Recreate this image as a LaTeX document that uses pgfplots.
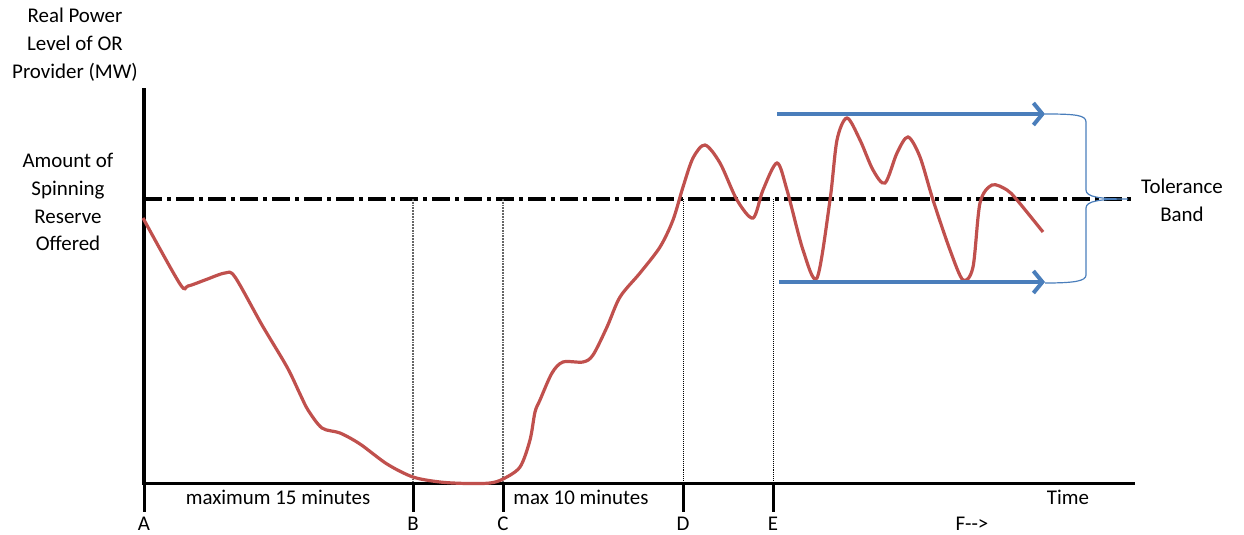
\documentclass[border=0pt]{standalone}
\usepackage{pgfplots}
\pgfplotsset{compat=1.18}
\usepackage{fontspec}
\setmainfont{Carlito}
\usetikzlibrary{arrows.meta}
\definecolor{offred}{RGB}{192,80,77}
\definecolor{offblue}{RGB}{74,126,187}

\begin{document}
\begin{tikzpicture}
  \begin{axis}[
      width=1244bp, height=533bp, scale only axis,
      xmin=0, xmax=1244, ymin=0, ymax=533,
      y dir=reverse,
      hide axis, clip=false,
      font=\fontsize{21}{28}\selectfont,
    ]
    \path (axis cs:0,0) rectangle (axis cs:1244,533);

    % axes
    \draw[line width=3.5bp] (axis cs:144,88) -- (axis cs:144,483.5) -- (axis cs:1135,483.5);
    \pgfplotsinvokeforeach{144,413,503,683,773}{
      \draw[line width=3bp] (axis cs:#1,482) -- (axis cs:#1,512);
    }

    % offered reserve level
    \draw[line width=3.2bp, dash pattern=on 18bp off 5bp on 4bp off 5bp]
      (axis cs:144,199) -- (axis cs:1135,199);

    % vertical markers
    \draw[line width=1.8bp, densely dotted, black!60] (axis cs:413,199) -- (axis cs:413,482);
    \draw[line width=1.8bp, densely dotted, black!60] (axis cs:503,199) -- (axis cs:503,482);
    \draw[line width=1bp, densely dotted] (axis cs:683,199) -- (axis cs:683,482);
    \draw[line width=1bp, densely dotted] (axis cs:773,199) -- (axis cs:773,482);

    % power output
    \addplot[offred, line width=3.2bp, smooth, tension=0.5] coordinates {
      (143,218) (180,284) (188,286) (205,280) (225,273) (235,277) (262,325)
      (287,367) (300,394) (308,410) (322,428) (340,433) (360,444) (387,464)
      (413,477) (440,482) (467,483.5) (490,483) (503,479) (520,467) (530,440)
      (535,412) (540,400) (552,373) (563,362) (583,362) (593,355) (607,327)
      (620,297) (640,273) (660,247) (673,220) (683,187) (693,158) (705,145)
      (720,163) (737,200) (753,218) (763,190) (777,163) (787,190) (803,250)
      (817,278) (830,200) (837,140) (847,118) (860,140) (873,170) (885,183)
      (897,153) (908,137) (920,157) (933,200) (950,250) (963,280) (973,267)
      (980,203) (992,185) (1007,190) (1017,200) (1043,232)
    };

    % tolerance band arrows
    \draw[offblue, line width=4.5bp, -{Straight Barb[length=9bp,width=22bp,line width=4bp]}]
      (axis cs:777,114) -- (axis cs:1045,114);
    \draw[offblue, line width=4.5bp, -{Straight Barb[length=9bp,width=22bp,line width=4bp]}]
      (axis cs:779,282) -- (axis cs:1045,282);

    % brace
    \draw[offblue, line width=1.2bp]
      (axis cs:1045,114) .. controls (axis cs:1075,114) and (axis cs:1086,115) .. (axis cs:1086,122)
      -- (axis cs:1086,190) .. controls (axis cs:1086,197) and (axis cs:1100,199) .. (axis cs:1128,199)
      .. controls (axis cs:1100,199) and (axis cs:1086,201) .. (axis cs:1086,208)
      -- (axis cs:1086,275) .. controls (axis cs:1086,281) and (axis cs:1075,283) .. (axis cs:1045,283);

    % labels
    \node[align=center] at (axis cs:75,45) {Real Power\\Level of OR\\Provider (MW)};
    \node[align=center] at (axis cs:68,202) {Amount of\\Spinning\\Reserve\\Offered};
    \node[align=center] at (axis cs:1182,200) {Tolerance\\Band};
    \node at (axis cs:278,497) {maximum 15 minutes};
    \node at (axis cs:581,497) {max 10 minutes};
    \node at (axis cs:1068,497) {Time};
    \node at (axis cs:144,524) {A};
    \node at (axis cs:413,524) {B};
    \node at (axis cs:503,524) {C};
    \node at (axis cs:683,524) {D};
    \node at (axis cs:773,524) {E};
    \node at (axis cs:972,524) {F-{}-{}>};
  \end{axis}
\end{tikzpicture}
\end{document}
